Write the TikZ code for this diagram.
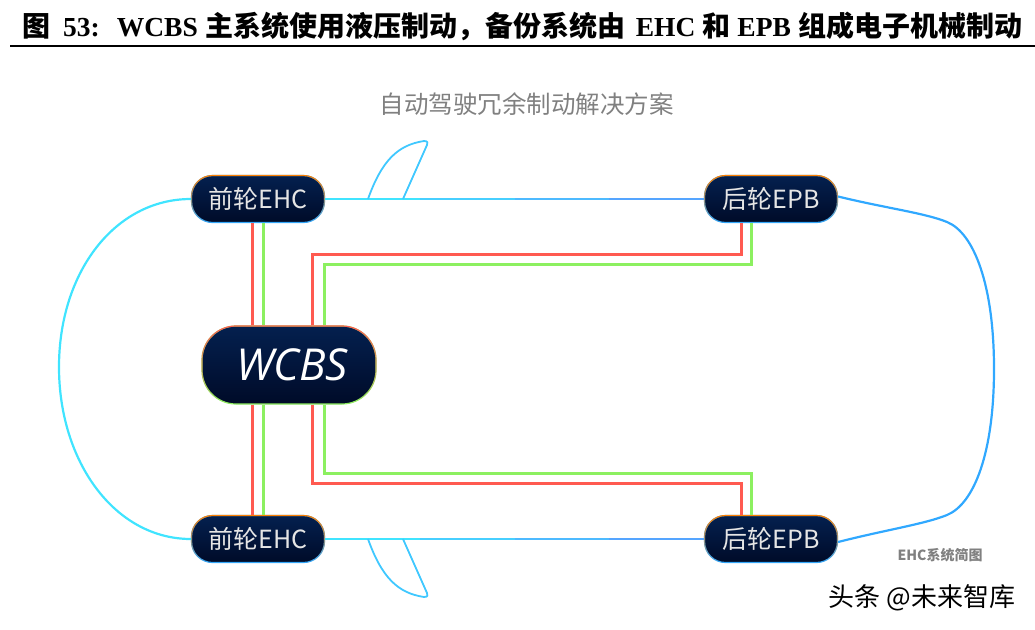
\documentclass[tikz,border=0pt]{standalone}
\usepackage{fontspec}
\setmainfont{Liberation Serif}
\newfontfamily\cjk{Noto Sans CJK SC}
\newfontfamily\opensans{Open Sans}
\newcommand{\titlecjk}{\cjk\fontsize{28}{32}\selectfont}
\usetikzlibrary{calc,fadings}
\definecolor{nodetop}{HTML}{04204F}
\definecolor{nodebot}{HTML}{000B28}
\definecolor{hydred}{HTML}{FF5A50}
\definecolor{hydgreen}{HTML}{8CF060}
\definecolor{linecyan}{HTML}{40E4FF}
\definecolor{linesky}{HTML}{40C8FF}
\definecolor{lineblue}{HTML}{5C90FF}
\definecolor{linerear}{HTML}{30A8FF}
\begin{document}
\begin{tikzpicture}
          [x=1pt,y=-1pt,
          wheel/.style={rectangle,rounded corners=21pt,minimum width=133pt,minimum height=47pt,inner sep=0pt,
            top color=nodetop,bottom color=nodebot,draw=linerear,line width=1.2pt,text=white!90!black,
            font=\cjk\fontsize{25}{30}\selectfont,postaction={draw=orange,path fading=south,line width=1.2pt}},
          master/.style={rectangle,rounded corners=34pt,minimum width=174pt,minimum height=78pt,inner sep=0pt,
            top color=nodetop,bottom color=nodebot,draw=hydgreen,line width=1.2pt,text=white,
            font=\opensans\itshape\fontsize{44}{50}\selectfont,postaction={draw=hydred,path fading=south,line width=1.2pt}},
          redline/.style={hydred,line width=3pt},
          greenline/.style={hydgreen,line width=3pt},
          body/.style={line width=2.2pt}]
          \useasboundingbox (0,0) rectangle (1035,629);
          \node[anchor=west,inner sep=0pt,font=\bfseries\fontsize{27.5}{32}\selectfont] (title) at (22,26)
          {{\titlecjk 图}\hspace{13pt}53:\hspace{17pt}WCBS\hspace{8pt}{\titlecjk 主系统使用液压制动^^^^ff0c备份系统由}\hspace{10pt}EHC\hspace{7pt}{\titlecjk 和}\hspace{7pt}EPB\hspace{8pt}{\titlecjk 组成电子机械制动}};
          \draw[line width=2.6pt] (10,46) -- (1035,46);
          \node[inner sep=0pt,text=gray,font=\cjk\fontsize{24.5}{28}\selectfont] (heading) at (526.5,104) {自动驾驶冗余制动解决方案};
          \node[wheel] (ehcTop) at (258,199) {前轮EHC};
          \node[wheel] (ehcBot) at (258,539) {前轮EHC};
          \node[wheel] (epbTop) at (771,199) {后轮EPB};
          \node[wheel] (epbBot) at (771,539) {后轮EPB};
          \node[master] (wcbs)  at (289,365) {\hspace{6pt}WCBS};
          % front wheels
          \draw[redline]   ([xshift=-5.5pt]ehcTop.south) -- ([xshift=-36.5pt]wcbs.north);
          \draw[greenline] ([xshift=5pt]ehcTop.south)    -- ([xshift=-26pt]wcbs.north);
          \draw[redline]   ([xshift=-36.5pt]wcbs.south)  -- ([xshift=-5.5pt]ehcBot.north);
          \draw[greenline] ([xshift=-26pt]wcbs.south)    -- ([xshift=5pt]ehcBot.north);
          % rear wheels
          \draw[redline]   ([xshift=23.7pt]wcbs.north) -- ++(0,-71) -| ([xshift=-30pt]epbTop.south);
          \draw[greenline] ([xshift=35pt]wcbs.north)   -- ++(0,-61) -| ([xshift=-19.4pt]epbTop.south);
          \draw[redline]   ([xshift=23.7pt]wcbs.south) -- ++(0,79)  -| ([xshift=-30pt]epbBot.north);
          \draw[greenline] ([xshift=35pt]wcbs.south)   -- ++(0,69)  -| ([xshift=-19.4pt]epbBot.north);
          % car outline
          \draw[body,linecyan] (ehcTop.west) .. controls (115,199) and (59,272) .. (59,367)
          .. controls (59,462) and (115,539) .. (ehcBot.west);
          \draw[body,linerear] ([yshift=2.5pt]epbTop.east) .. controls (885,208) and (925,213) .. (947,222)
          .. controls (974,233) and (994,285) .. (994,369)
          .. controls (994,453) and (974,504) .. (947,515)
          .. controls (925,524) and (885,530) .. ([yshift=-3pt]epbBot.east);
          \foreach \front/\rear in {ehcTop/epbTop,ehcBot/epbBot}
            \foreach \mixa/\ta/\tb in {0/0/0.26,25/0.25/0.51,50/0.5/0.76,75/0.75/1}
              \draw[body,lineblue!\mixa!linecyan] ($(\front.east)!\ta!(\rear.west)$) -- ($(\front.east)!\tb!(\rear.west)$);
          % mirrors
          \draw[linesky,line width=1.8pt,line join=round] (368,199) .. controls (382,160) and (398,145) .. (424,141)
          .. controls (428,141) and (428,143) .. (427,145) -- (403,199);
          \draw[linesky,line width=1.8pt,line join=round] (368,539) .. controls (382,578) and (398,593) .. (424,597)
          .. controls (428,597) and (428,595) .. (427,593) -- (403,539);
          \node[inner sep=0pt,text=gray,font=\cjk\bfseries\fontsize{14}{16}\selectfont] (caption) at (940,555) {EHC系统简图};
          \node[inner sep=0pt,font=\cjk\fontsize{26}{30}\selectfont] (mark) at (922,598) {头条 @未来智库};
        \end{tikzpicture}
\end{document}
